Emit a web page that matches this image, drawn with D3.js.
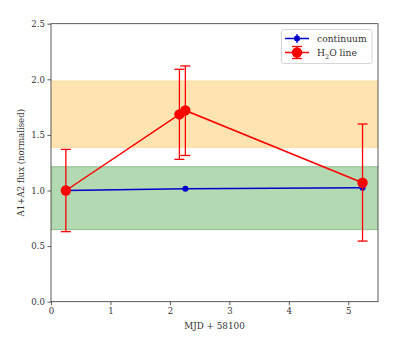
<!DOCTYPE html>
<html><head><meta charset="utf-8">
<script src="https://cdn.jsdelivr.net/npm/d3@7"></script>
<style>body{margin:0;background:#fff}svg{display:block}svg text{font-family:"DejaVu Serif",serif !important;fill:#333}</style>
</head><body>
<svg id="c" width="407" height="339"></svg>
<script>
const xTicks=[0,1,2,3,4,5];
const yTicks=[0.0,0.5,1.0,1.5,2.0,2.5];
const contX=[0.25,2.26,5.24];
const contY=[1.0,1.015,1.025];
const h2oX=[0.25,2.16,2.26,5.24];
const h2oY=[1.0,1.685,1.72,1.07];
const h2oLo=[0.63,1.28,1.315,0.545];
const h2oHi=[1.37,2.09,2.12,1.598];
const bandOrange=[1.388,1.985];
const bandGreen=[0.648,1.214];

const svg=d3.select("#c");
const L=51,R=378,T=23.7,B=301.7;
const x=d3.scaleLinear().domain([0,5.5]).range([L,R]);
const y=d3.scaleLinear().domain([0,2.5]).range([B,T]);

svg.append("rect").attr("x",L).attr("width",R-L).attr("y",y(bandOrange[1])).attr("height",y(bandOrange[0])-y(bandOrange[1])).attr("fill","#ffa500").attr("fill-opacity",0.3);
svg.append("rect").attr("x",L).attr("width",R-L).attr("y",y(bandGreen[1])).attr("height",y(bandGreen[0])-y(bandGreen[1])).attr("fill","#008000").attr("fill-opacity",0.3);
[bandOrange,bandGreen].forEach((b,i)=>{const c=i?"#5aa05a":"#ffc870";b.forEach(v=>svg.append("line").attr("x1",L).attr("x2",R).attr("y1",y(v)).attr("y2",y(v)).attr("stroke",c).attr("stroke-width",0.8).attr("stroke-opacity",0.7));});

const line=d3.line().x(d=>x(d[0])).y(d=>y(d[1]));
svg.append("path").datum(contX.map((v,i)=>[v,contY[i]])).attr("d",line).attr("fill","none").attr("stroke","#0000cc").attr("stroke-width",1.5);
svg.selectAll(".cp").data(contX).enter().append("circle").attr("cx",d=>x(d)).attr("cy",(d,i)=>y(contY[i])).attr("r",3).attr("fill","#0000cc");

svg.append("path").datum(h2oX.map((v,i)=>[v,h2oY[i]])).attr("d",line).attr("fill","none").attr("stroke","#ff0000").attr("stroke-width",1.5);
h2oX.forEach((v,i)=>{
  const g=svg.append("g").attr("stroke","#ff0000").attr("stroke-width",1.3);
  g.append("line").attr("x1",x(v)).attr("x2",x(v)).attr("y1",y(h2oLo[i])).attr("y2",y(h2oHi[i]));
  [h2oLo[i],h2oHi[i]].forEach(e=>g.append("line").attr("x1",x(v)-5).attr("x2",x(v)+5).attr("y1",y(e)).attr("y2",y(e)));
});
svg.selectAll(".hp").data(h2oX).enter().append("circle").attr("cx",d=>x(d)).attr("cy",(d,i)=>y(h2oY[i])).attr("r",5.2).attr("fill","#ff0000");

const xa=svg.append("g").attr("transform",`translate(0,${B})`).call(d3.axisBottom(x).tickValues(xTicks).tickFormat(d3.format("d")).tickSize(3.5).tickPadding(2.5));
const ya=svg.append("g").attr("transform",`translate(${L},0)`).call(d3.axisLeft(y).tickValues(yTicks).tickFormat(d3.format(".1f")).tickSize(3.5).tickPadding(2.5));
[xa,ya].forEach(a=>{a.attr("font-family",null);a.select(".domain").remove();a.selectAll("line").attr("stroke","#333").attr("stroke-width",0.8);a.selectAll("text").attr("font-size",8.6).attr("fill","#333");});
svg.append("rect").attr("x",L).attr("y",T).attr("width",R-L).attr("height",B-T).attr("fill","none").attr("stroke","#333").attr("stroke-width",0.8);

svg.append("text").attr("x",(L+R)/2).attr("y",329).attr("text-anchor","middle").attr("font-size",8.8).text("MJD + 58100");
svg.append("text").attr("transform",`translate(24,${(T+B)/2}) rotate(-90)`).attr("text-anchor","middle").attr("font-size",8.6).text("A1+A2 flux (normalised)");

const lg=svg.append("g");
lg.append("rect").attr("x",281.5).attr("y",29.5).attr("width",90.5).attr("height",34).attr("rx",2).attr("fill","#fff").attr("fill-opacity",0.8).attr("stroke","#ccc").attr("stroke-width",0.8);
lg.append("line").attr("x1",285).attr("x2",309).attr("y1",38.5).attr("y2",38.5).attr("stroke","#0000cc").attr("stroke-width",1.5);
lg.append("line").attr("x1",297).attr("x2",297).attr("y1",34).attr("y2",43).attr("stroke","#0000cc").attr("stroke-width",1.3);
lg.append("circle").attr("cx",297).attr("cy",38.5).attr("r",3).attr("fill","#0000cc");
lg.append("line").attr("x1",285).attr("x2",309).attr("y1",52.5).attr("y2",52.5).attr("stroke","#ff0000").attr("stroke-width",1.5);
lg.append("line").attr("x1",297).attr("x2",297).attr("y1",46.5).attr("y2",58.5).attr("stroke","#ff0000").attr("stroke-width",1.3);
[46.5,58.5].forEach(e=>lg.append("line").attr("x1",292).attr("x2",302).attr("y1",e).attr("y2",e).attr("stroke","#ff0000").attr("stroke-width",1.3));
lg.append("circle").attr("cx",297).attr("cy",52.5).attr("r",5.2).attr("fill","#ff0000");
lg.append("text").attr("x",317).attr("y",42).attr("font-size",9.2).text("continuum");
const t2=lg.append("text").attr("x",317).attr("y",56).attr("font-size",9.2);
t2.append("tspan").text("H");
t2.append("tspan").attr("font-size",6.5).attr("dy",2.5).text("2");
t2.append("tspan").attr("dy",-2.5).text("O line");
</script>
</body></html>
